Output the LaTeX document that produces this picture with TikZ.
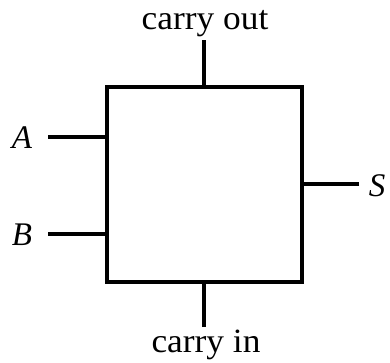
\documentclass[tikz,border=0pt]{standalone}
\usepackage{fontspec}
\setmainfont{Liberation Serif}
\newfontfamily\lbl[FakeStretch=1.04]{Liberation Serif}
\begin{document}
\begin{tikzpicture}[x=1pt,y=-1pt,
  wire/.style={line width=4pt},
  lab/.style={font=\lbl\fontsize{34}{38}\selectfont, inner sep=0pt},
  ilab/.style={font=\fontsize{33}{36}\selectfont\itshape, inner sep=0pt}]
\useasboundingbox (0,0) rectangle (390,362);
\node[draw, line width=4pt, minimum width=195pt, minimum height=195pt, inner sep=0pt] (box) at (204.5,184) {};
\coordinate (co) at (204,40);
\coordinate (ci) at (204,327);
\coordinate (a) at (48,137);
\coordinate (b) at (48,234);
\coordinate (s) at (359,184);
\draw[wire] (co) -- (co |- box.north);
\draw[wire] (ci) -- (ci |- box.south);
\draw[wire] (a) -- (a -| box.west);
\draw[wire] (b) -- (b -| box.west);
\draw[wire] (s) -- (s -| box.east);
\node[lab, anchor=base] (tco) at (205,29) {carry out};
\node[lab, anchor=base] (tci) at (206,352) {carry in};
\node[ilab, anchor=base] (ta) at (22,148) {A};
\node[ilab, anchor=base] (tb) at (22,245) {B};
\node[ilab, anchor=base] (ts) at (377,196) {S};
\end{tikzpicture}
\end{document}
